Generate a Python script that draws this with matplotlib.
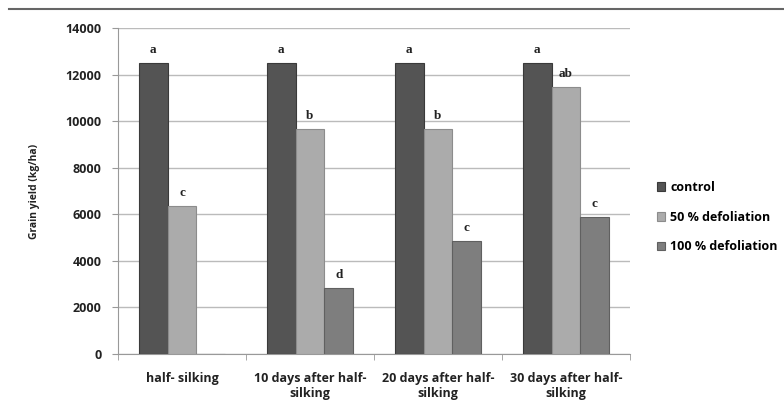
import matplotlib.pyplot as plt
import numpy as np
from matplotlib.lines import Line2D

groups = ['half- silking', '10 days after half-\nsilking', '20 days after half-\nsilking', '30 days after half-\nsilking']
series = ['control', '50 % defoliation', '100 % defoliation']
control = [12500, 12500, 12500, 12500]
defol50 = [6350, 9650, 9650, 11450]
defol100 = [0, 2850, 4870, 5900]
letters_control = ['a', 'a', 'a', 'a']
letters_50 = ['c', 'b', 'b', 'ab']
letters_100 = ['', 'd', 'c', 'c']

colors = ['#545454', '#ababab', '#7e7e7e']
edges = ['#3a3a3a', '#8c8c8c', '#606060']

plt.rcParams['font.family'] = ['Open Sans', 'DejaVu Sans']
fig = plt.figure(figsize=(7.84, 4.03), dpi=100)
ax = fig.add_axes([0.1505, 0.1216, 0.653, 0.809])

fig.add_artist(Line2D([0.012, 1.0], [0.978, 0.978], color='#666666', lw=1.5))

x = np.arange(len(groups))
w = 0.225
data = [control, defol50, defol100]
labels = [letters_control, letters_50, letters_100]
for i, (vals, lets) in enumerate(zip(data, labels)):
    pos = x + (i - 1) * w
    ax.bar(pos, vals, width=w, color=colors[i], edgecolor=edges[i], linewidth=0.8,
           label=series[i], zorder=3)
    for p, v, l in zip(pos, vals, lets):
        if l:
            ax.text(p, v + 300, l, ha='center', va='bottom', fontsize=9.5,
                    fontweight='bold', family='Liberation Serif', color='#222222')

ax.set_xlim(-0.5, len(groups) - 0.5)
ax.set_ylim(0, 14000)
ax.set_yticks(range(0, 14001, 2000))
ax.set_xticks(x)
ax.set_xticklabels(groups, fontsize=9, fontweight='bold', color='#222222', linespacing=1.2)
ax.set_xticks(np.arange(-0.5, len(groups), 1), minor=True)
ax.tick_params(axis='x', which='major', length=0, pad=13)
ax.tick_params(axis='x', which='minor', length=4, color='#999999')
ax.tick_params(axis='y', length=4, color='#999999', labelsize=9, labelcolor='#222222', pad=8)
for t in ax.get_yticklabels():
    t.set_fontweight('bold')
ax.grid(axis='y', color='#bbbbbb', lw=1, zorder=0)
for s in ['top', 'right']:
    ax.spines[s].set_visible(False)
for s in ['left', 'bottom']:
    ax.spines[s].set_color('#999999')
ax.set_ylabel('Grain yield (kg/ha)', fontsize=7.5, fontweight='bold', color='#222222', labelpad=18)

ax.legend(loc='center left', bbox_to_anchor=(1.03, 0.42), frameon=False,
          handlelength=0.7, handleheight=0.7, handletextpad=0.4, labelspacing=1.35,
          prop={'weight': 'bold', 'size': 9})

plt.savefig('out.png', dpi=100)
